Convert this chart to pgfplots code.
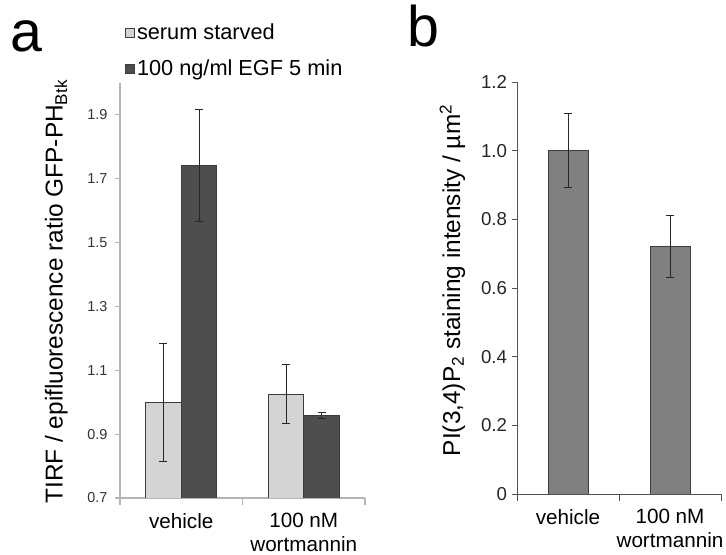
\documentclass[border=0pt]{standalone}
\usepackage{fontspec}
\setmainfont{Liberation Sans}
\usepackage{pgfplots}
\pgfplotsset{compat=1.18}
\definecolor{barLight}{HTML}{D4D4D4}
\definecolor{barDark}{HTML}{4E4E4E}
\definecolor{barMid}{HTML}{808080}
\definecolor{barEdge}{HTML}{3C3C3C}
\definecolor{axisA}{HTML}{B4B4B4}
\definecolor{axisB}{HTML}{505050}

\pgfplotsset{
  panel/.style={
    scale only axis,
    axis x line=bottom, axis y line=left,
    axis line style={-},
    tick align=outside,
    xmin=-0.5, xmax=1.5,
    xtick={0,1},
    xticklabels={vehicle,{100 nM\\[0.5pt]wortmannin}},
    xticklabel style={align=center, font=\fontsize{15.5}{17}\selectfont, yshift=-4pt},
    major x tick style={draw=none},
    minor xtick={-0.5,0.5,1.5},
    minor tick length=5pt,
    bar width=26.7pt,
  },
  errs/.style={
    error bars/.cd, y dir=both, y explicit,
    error bar style={line width=0.6pt, draw=black!85},
    error mark options={rotate=90, mark size=3pt, line width=0.6pt, draw=black!85},
  },
}

\begin{document}
\begin{tikzpicture}
% panel a
\begin{axis}[panel,
  at={(90pt,42.75pt)}, anchor=south west,
  width=183.75pt, height=311.25pt,
  ybar=0pt,
  axis line style={draw=axisA, line width=0.8pt},
  every tick/.style={draw=axisA, line width=0.8pt},
  ymin=0.7, ymax=2.0,
  ytick={0.7,0.9,1.1,1.3,1.5,1.7,1.9},
  yticklabels={0.7,0.9,1.1,1.3,1.5,1.7,1.9},
  major tick length=4pt,
  yticklabel style={font=\fontsize{10.8}{12}\selectfont, text=black!80, xshift=-2pt},
  legend style={at={(0.02,1.147)}, anchor=north west, draw=none, fill=none,
    font=\fontsize{16.3}{18}\selectfont, row sep=10.5pt, inner sep=0pt,
    nodes={inner sep=1.5pt}},
  legend cell align=left,
  legend image code/.code={\draw[#1] (0pt,-3.4pt) rectangle (6.8pt,3.4pt);},
]
\addplot[fill=barLight, draw=barEdge, line width=0.6pt, errs]
  coordinates {(0,1.000) +- (0,0.185) (1,1.026) +- (0,0.092)};
\addplot[fill=barDark, draw=barEdge, line width=0.6pt, errs]
  coordinates {(0,1.742) +- (0,0.175) (1,0.958) +- (0,0.010)};
\legend{serum starved, 100 ng/ml EGF 5 min}
\end{axis}

% panel b
\begin{axis}[panel,
  at={(387.75pt,45.75pt)}, anchor=south west,
  width=153pt, height=309pt,
  ybar=0pt, bar width=30pt,
  axis line style={draw=axisB, line width=0.7pt},
  every tick/.style={draw=axisB, line width=0.7pt},
  ymin=0, ymax=1.2,
  ytick={0,0.2,0.4,0.6,0.8,1.0,1.2},
  yticklabels={0,0.2,0.4,0.6,0.8,1.0,1.2},
  major tick length=4pt,
  yticklabel style={font=\fontsize{14}{16}\selectfont, text=black!85},
]
\addplot[fill=barMid, draw=barEdge, line width=0.6pt, errs]
  coordinates {(0,1.000) +- (0,0.108) (1,0.720) +- (0,0.090)};
\end{axis}

% axis titles and panel letters
\node[rotate=90, anchor=base, inner sep=0pt, font=\fontsize{18.3}{20}\selectfont]
  at (47pt,197.5pt) {TIRF / epifluorescence ratio GFP-PH\textsubscript{Btk}};
\node[rotate=90, anchor=base, inner sep=0pt, font=\fontsize{18.3}{20}\selectfont]
  at (345pt,206pt) {PI(3,4)P\textsubscript{2} staining intensity / µm\textsuperscript{2}};
\node[anchor=base west, inner sep=0pt, font=\fontsize{43}{45}\selectfont]
  at (7.5pt,377.25pt) {a};
\node[anchor=base west, inner sep=0pt, font=\fontsize{43}{45}\selectfont]
  at (305.25pt,381pt) {b};

\pgfresetboundingbox
\path[use as bounding box] (0,0) rectangle (544.5pt,416.25pt);
\end{tikzpicture}
\end{document}
